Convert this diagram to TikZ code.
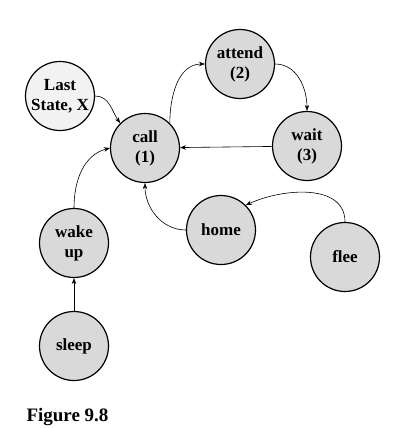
\documentclass[tikz,border=0pt]{standalone}
\usepackage{fontspec}
\setmainfont{Liberation Serif}
\usetikzlibrary{arrows.meta}
\definecolor{stategray}{HTML}{D9D9D9}
\definecolor{startgray}{HTML}{F2F2F2}
\tikzstyle{state} = [
    circle,
    minimum size=69pt,
    inner sep=0pt,
    align=center,
    draw=black,
    line width=1.2pt,
    fill=stategray,
    font=\fontsize{17}{20}\selectfont\bfseries
]
\tikzstyle{laststate} = [
    state,
    fill=startgray
]
\tikzstyle{arrow} = [line width=0.6pt,-{Stealth[length=6pt,width=4.5pt]}]

\begin{document}
\begin{tikzpicture}[x=1pt, y=-1pt]
\useasboundingbox (0,0) rectangle (408,428);

\node (last) [laststate] at (60,96) {Last\\State, X};

\node (call) [state] at (145,148) {call\\(1)};

\node (attend) [state] at (240,64) {attend\\(2)};

\node (wait) [state] at (307,146) {wait\\(3)};

\node (home) [state] at (221,230) {home};

\node (flee) [state] at (345,257) {flee};

\node (wake) [state] at (74,243) {wake\\up};

\node (sleep) [state] at (74,346) {sleep};

\node (caption) [anchor=base west, font=\fontsize{19}{22}\selectfont\bfseries]
  at (23,421) {Figure 9.8};

\draw [arrow] (last.east) to [out=0, in=125] (call.135);
\draw [arrow] (call.45) to [out=90, in=180] (attend.west);
\draw [arrow] (attend.east) to [out=0, in=90] (wait.north);
\draw [arrow] (wait) -- (call);
\draw [arrow] (home.west) to [out=180, in=-90] (call.south);
\draw [arrow] (flee.north) to [out=90, in=25] (home.45);
\draw [arrow] (wake.north) to [out=90, in=195] (call.west);
\draw [arrow] (sleep) -- (wake);

\end{tikzpicture}
\end{document}
